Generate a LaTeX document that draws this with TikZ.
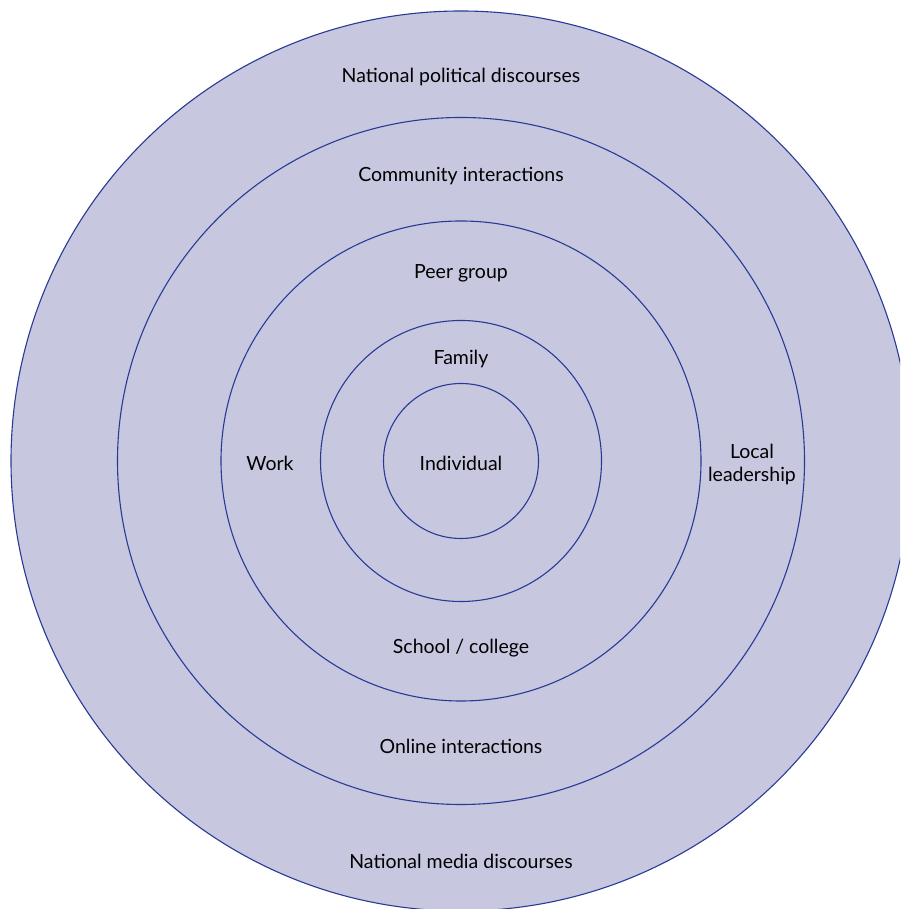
\documentclass[tikz,border=0pt]{standalone}
\usepackage{fontspec}
\setmainfont{Lato}
\usetikzlibrary{positioning}
\definecolor{ringfill}{RGB}{200,199,224}
\definecolor{ringline}{RGB}{40,58,150}

\begin{document}
\begin{tikzpicture}[x=1pt,y=1pt,
    ring/.style={draw=ringline, line width=1.1pt, fill=ringfill},
    txt/.style={font=\fontsize{19.5}{23}\selectfont, align=center, inner sep=0pt}]

  \useasboundingbox (0,0) rectangle (900,909);
  \clip (0,0) rectangle (900,909);
  \coordinate (Origin) at (461,448);

  % rings, outside in
  \draw[ring] (Origin) circle (450);
  \draw[ring] (Origin) circle (343.5);
  \draw[ring] (Origin) circle (240);
  \draw[ring] (Origin) circle (140.5);
  \draw[ring] (Origin) circle (77.5);

  % labels
  \node[txt] (indiv) at (461,446) {Individual};
  \node[txt] (family) at (461,550) {Family};
  \node[txt] (peer) at (461,636) {Peer group};
  \node[txt] (school) at (461,261) {School / college};
  \node[txt] (work) at (270,446) {Work};
  \node[txt] (local) at (752,445) {Local\\leadership};
  \node[txt] (community) at (461,733) {Community interactions};
  \node[txt] (online) at (461,163) {Online interactions};
  \node[txt] (polit) at (461,832) {National political discourses};
  \node[txt] (media) at (461,48) {National media discourses};

\end{tikzpicture}
\end{document}
